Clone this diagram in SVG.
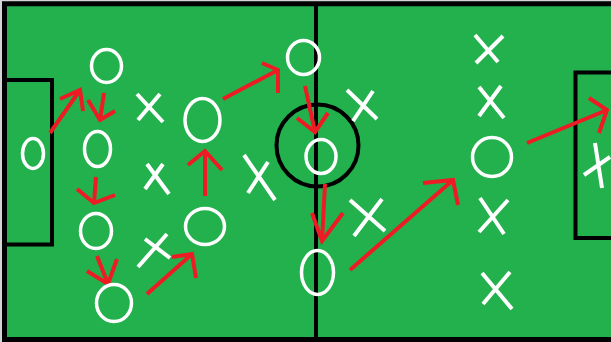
<svg xmlns="http://www.w3.org/2000/svg" width="611" height="342" viewBox="0 0 611 342">
<style>
.line{fill:none;stroke:#000;stroke-width:4}
.o{fill:none;stroke:#fff;stroke-width:3.5}
.x{fill:none;stroke:#fff;stroke-width:4;stroke-linecap:butt}
.arrow{fill:none;stroke:#ED1C24;stroke-width:4;stroke-linecap:butt;stroke-linejoin:miter}
</style>
<rect x="0" y="0" width="611" height="342" fill="#d4d4d4"/>
<g id="field">
<rect x="4.5" y="3.75" width="620" height="335.75" fill="#22B14C" stroke="#000" stroke-width="5"/>
<line class="line" x1="316" y1="4" x2="316" y2="340"/>
<circle class="line" cx="317.5" cy="145.5" r="41" stroke-width="3.5"/>
<rect class="line" x="4.5" y="80" width="47.5" height="164.5"/>
<rect class="line" x="575.5" y="72.5" width="60" height="165.5"/>
</g>
<g id="connectors">
<path class="arrow" d="M50,133 L80,90 M60,99 L80,90 L83,111"/>
<path class="arrow" d="M104,93 L100,120 M88,100 L100,120 L115,111"/>
<path class="arrow" d="M96,177 L94,203 M77,189 L94,203 L115,195"/>
<path class="arrow" d="M97,256 L108,284 M87,271 L108,284 L117,259"/>
<path class="arrow" d="M147,294 L192,254 M172,257 L192,254 L196,278"/>
<path class="arrow" d="M205,196 L205,151 M188,165 L205,151 L222,170"/>
<path class="arrow" d="M223,99 L278,70 M262,63 L278,70 L278,93"/>
<path class="arrow" d="M305,86 L315,132 M297,118 L315,132 L328,113"/>
<path class="arrow" d="M325,184 L322,241 M312,213 L322,241 L343,213"/>
<path class="arrow" d="M350,270 L453,180 M423,183 L453,180 L458,205"/>
<path class="arrow" d="M527,143 L607,110 M589,98 L607,110 L599,133"/>
</g>
<g id="o1"><ellipse class="o" cx="33" cy="153.5" rx="10.5" ry="15"/></g>
<g id="o2"><ellipse class="o" cx="106.5" cy="66" rx="15" ry="16.5"/></g>
<g id="o3"><ellipse class="o" cx="97.5" cy="149" rx="13" ry="17.5"/></g>
<g id="o4"><ellipse class="o" cx="96" cy="231" rx="15.5" ry="17.5"/></g>
<g id="o5"><ellipse class="o" cx="114" cy="303" rx="17.5" ry="18.5"/></g>
<g id="o6"><ellipse class="o" cx="202.5" cy="120" rx="17.5" ry="21.5"/></g>
<g id="o7"><ellipse class="o" cx="205" cy="226.5" rx="19.5" ry="18"/></g>
<g id="o8"><ellipse class="o" cx="303.5" cy="57.5" rx="16" ry="17"/></g>
<g id="o9"><ellipse class="o" cx="321" cy="156.5" rx="15" ry="17"/></g>
<g id="o10"><ellipse class="o" cx="317.5" cy="272.5" rx="16" ry="22"/></g>
<g id="o11"><ellipse class="o" cx="492" cy="157" rx="19.5" ry="19.5"/></g>
<g id="x1"><path class="x" d="M137,94 L163,122 M160,94 L138,120"/></g>
<g id="x2"><path class="x" d="M163,164 L145,189 M147,164 L169,194"/></g>
<g id="x3"><path class="x" d="M138,267 L167,234 M145,239 L170,258"/></g>
<g id="x4"><path class="x" d="M244,155 L275,200 M268,162 L248,193"/></g>
<g id="x5"><path class="x" d="M347,90 L377,119 M373,91 L353,121"/></g>
<g id="x6"><path class="x" d="M350,200 L385,231 M382,199 L354,236"/></g>
<g id="x7"><path class="x" d="M475,35 L498,62 M503,36 L476,63"/></g>
<g id="x8"><path class="x" d="M479,87 L504,118 M501,86 L479,116"/></g>
<g id="x9"><path class="x" d="M480,198 L504,234 M508,200 L479,232"/></g>
<g id="x10"><path class="x" d="M482,273 L512,309 M510,272 L483,304"/></g>
<g id="x11"><path class="x" d="M595,143 L602,188 M584,175 L610,157"/></g>
</svg>
